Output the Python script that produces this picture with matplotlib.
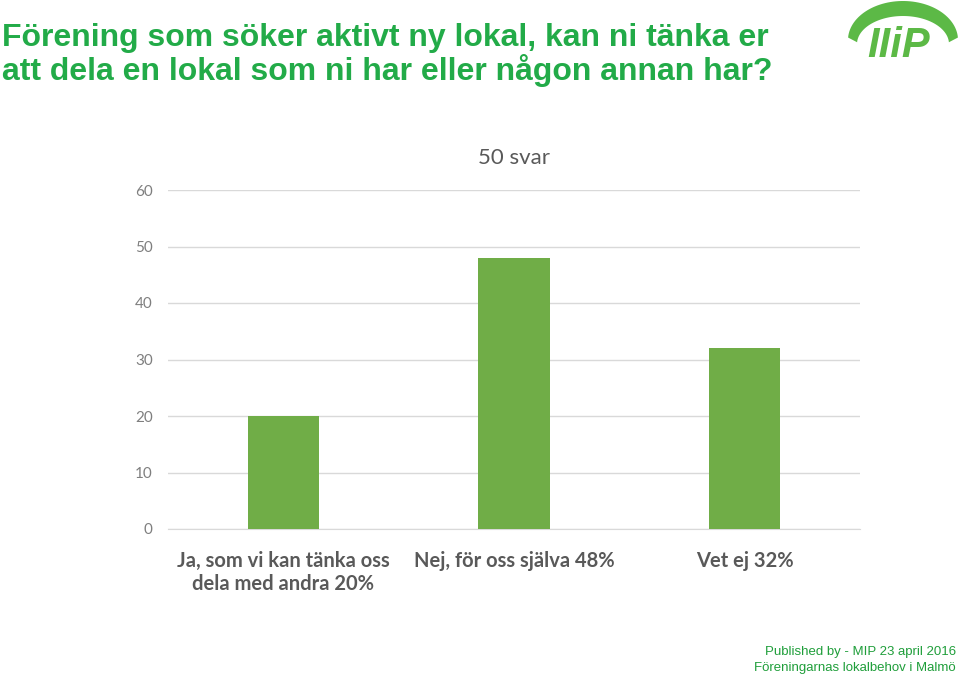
import matplotlib
matplotlib.use('Agg')
import matplotlib.pyplot as plt
import numpy as np
from matplotlib.patches import Polygon

categories = ['Ja, som vi kan tänka oss\ndela med andra 20%', 'Nej, för oss själva 48%', 'Vet ej 32%']
values = [20, 48, 32]
yticks = [0, 10, 20, 30, 40, 50, 60]
title_lines = ['Förening som söker aktivt ny lokal, kan ni tänka er',
               'att dela en lokal som ni har eller någon annan har?']

green = '#70ad47'
title_green = '#22ab48'
grey = '#595959'
logo_green = '#5cb946'

fig = plt.figure(figsize=(9.59, 6.81), dpi=100)
ax = fig.add_axes([168/959, 1-529/681, (860-168)/959, (529-190)/681])

ax.bar(range(len(values)), values, width=0.31, color=green, zorder=3)
ax.set_xlim(-0.5, 2.5)
ax.set_ylim(0, 60)
ax.set_yticks(yticks)
ax.set_yticklabels([str(t) for t in yticks], fontsize=11, color='#7f7f7f', family='Lato')
ax.set_xticks(range(len(values)))
ax.set_xticklabels(categories, fontsize=14.5, color=grey, family='Lato', fontweight='bold', linespacing=1.2)
ax.tick_params(length=0, axis='both')
ax.tick_params(axis='x', pad=16)
ax.tick_params(axis='y', pad=11)
ax.grid(axis='y', color='#d9d9d9', lw=1, zorder=0)
for s in ['top', 'right', 'left']:
    ax.spines[s].set_visible(False)
ax.spines['bottom'].set_color('#d9d9d9')
ax.set_title('50 svar', fontsize=16, color=grey, family='Lato', pad=19)

for i, line in enumerate(title_lines):
    fig.text(0.002, 1-(46+34*i)/681, line, fontsize=23, fontweight='bold', color=title_green,
             family='Liberation Sans', va='baseline', ha='left')

fig.text(956/959, 1-652/681, 'Published by - MIP 23 april 2016', fontsize=9.5, color='#1f9e3a',
         family='Liberation Sans', ha='right', va='center')
fig.text(956/959, 1-668/681, 'Föreningarnas lokalbehov i Malmö', fontsize=9.5, color='#1f9e3a',
         family='Liberation Sans', ha='right', va='center')

# logo, drawn in pixel coordinates of the top-right corner
lax = fig.add_axes([840/959, 1-75/681, 119/959, 75/681])
lax.set_xlim(840, 959)
lax.set_ylim(75, 0)
lax.axis('off')
t = np.linspace(np.pi * 1.02, np.pi * 1.98, 60)
outer = np.column_stack([903 + 55 * np.cos(t), 40 + 39 * np.sin(t)])
inner = np.column_stack([903 + 46 * np.cos(t[::-1]), 44 + 28 * np.sin(t[::-1])])
lax.add_patch(Polygon(np.vstack([outer, inner]), closed=True, color=logo_green, lw=0))
lax.text(899, 46, 'IIiP', fontsize=30, fontweight='bold', fontstyle='italic', color=logo_green,
         family='Liberation Sans', ha='center', va='center')

fig.savefig('out.png', dpi=100)
